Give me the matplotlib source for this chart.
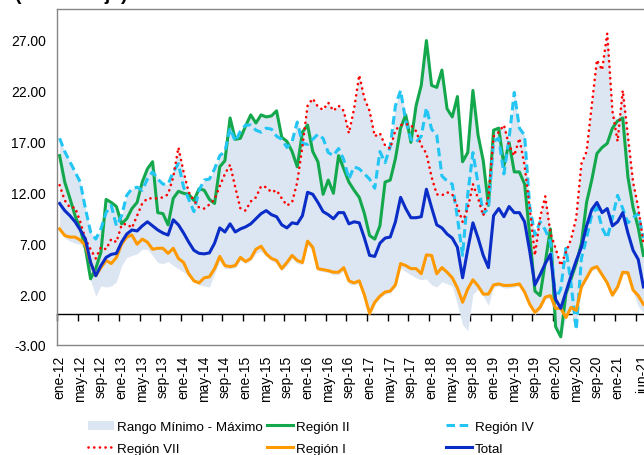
import matplotlib
matplotlib.use('Agg')
import matplotlib.pyplot as plt
import numpy as np
from matplotlib.ticker import FormatStrFormatter

plt.rcParams['font.family'] = ['Liberation Sans', 'DejaVu Sans']

# categorias: meses ene-12 .. jun-21
meses_abr = ['ene', 'feb', 'mar', 'abr', 'may', 'jun', 'jul', 'ago', 'sep', 'oct', 'nov', 'dic']
meses = [f'{m}-{a}' for a in range(12, 22) for m in meses_abr][:114]

etiquetas = ['ene-12', 'may-12', 'sep-12', 'ene-13', 'may-13', 'sep-13', 'ene-14', 'may-14',
             'sep-14', 'ene-15', 'may-15', 'sep-15', 'ene-16', 'may-16', 'sep-16', 'ene-17',
             'may-17', 'sep-17', 'ene-18', 'may-18', 'sep-18', 'ene-19', 'may-19', 'sep-19',
             'ene-20', 'may-20', 'sep-20', 'ene-21', 'jun-21']

total = [10.9, 10.2, 9.7, 9.1, 8.3, 7.4, 5.1, 3.8, 4.8, 5.6,
         5.9, 6.0, 7.1, 7.9, 8.3, 8.2, 8.7, 9.1, 8.7, 8.3,
         8.0, 7.8, 9.3, 8.8, 8.0, 7.1, 6.3, 6.0, 5.95, 6.05,
         7.0, 8.5, 8.1, 8.9, 8.1, 8.4, 8.6, 8.9, 9.4, 9.9,
         10.2, 9.8, 9.6, 8.8, 8.5, 9.0, 8.9, 9.7, 12.0, 11.8,
         11.0, 10.1, 9.8, 9.4, 10.0, 10.0, 8.9, 9.1, 9.0, 7.5,
         5.8, 5.7, 7.0, 7.5, 7.6, 9.1, 11.5, 10.4, 9.5, 9.5,
         9.6, 12.3, 10.5, 8.8, 8.5, 7.9, 7.5, 6.6, 3.6, 6.4,
         9.0, 7.5, 5.8, 4.6, 9.7, 10.4, 9.6, 10.6, 10.0, 10.0,
         9.1, 6.2, 2.9, 3.9, 5.0, 5.9, 1.5, 0.6, 2.2, 3.8,
         5.3, 6.6, 8.7, 10.3, 11.0, 10.0, 10.4, 8.7, 9.1, 10.0,
         8.0, 6.3, 5.4, 2.7]

region_i = [8.4, 7.75, 7.6, 7.6, 7.3, 6.8, 5.1, 3.8, 4.6, 5.3,
            5.0, 5.6, 6.9, 7.6, 7.8, 6.9, 7.4, 7.1, 6.4, 6.5,
            6.5, 6.0, 6.5, 5.5, 5.1, 4.0, 3.3, 3.1, 3.6, 3.7,
            4.5, 5.7, 4.8, 4.7, 4.8, 5.6, 5.2, 5.5, 6.4, 6.7,
            5.95, 5.5, 5.3, 4.5, 5.1, 5.8, 5.3, 5.1, 7.2, 6.6,
            4.5, 4.4, 4.3, 4.15, 4.15, 4.6, 3.3, 3.1, 3.3, 1.9,
            0.1, 1.2, 1.8, 2.2, 2.3, 2.9, 5.0, 4.8, 4.5, 4.5,
            4.0, 5.85, 5.8, 4.0, 4.6, 4.15, 3.6, 2.6, 1.2, 2.5,
            3.4, 2.8, 2.0, 2.0, 2.9, 3.0, 2.85, 2.85, 2.9, 3.0,
            2.2, 1.0, 0.2, 0.7, 1.7, 1.85, 0.6, 0.6, -0.3, 0.7,
            0.4, 2.7, 3.6, 4.5, 4.7, 3.9, 3.1, 1.9, 2.7, 4.15,
            4.1, 2.4, 1.85, 1.0]

region_ii = [15.6, 13.0, 11.4, 9.7, 8.4, 6.5, 3.5, 4.5, 6.1, 11.3,
             11.0, 10.6, 8.9, 9.4, 10.4, 11.0, 13.0, 14.3, 15.0, 10.0,
             9.9, 8.8, 11.4, 12.1, 11.9, 11.8, 11.2, 12.35, 12.2, 11.3,
             10.9, 14.5, 15.1, 19.3, 17.2, 17.3, 18.5, 19.6, 18.8, 19.6,
             19.4, 19.5, 20.0, 17.4, 17.0, 16.0, 14.5, 17.9, 18.6, 16.0,
             15.0, 11.8, 13.2, 11.9, 15.6, 14.3, 13.0, 12.2, 11.5, 9.9,
             7.75, 7.4, 8.7, 13.0, 13.2, 15.3, 18.3, 19.6, 16.9, 20.5,
             22.5, 26.9, 22.5, 22.3, 24.0, 20.2, 19.4, 21.4, 15.0, 15.9,
             22.0, 17.6, 15.1, 10.7, 18.1, 18.3, 14.6, 16.9, 14.0, 14.0,
             12.8, 7.75, 2.3, 1.85, 5.1, 8.4, -1.2, -2.2, 2.0, 3.5,
             5.0, 7.0, 11.0, 13.2, 15.8, 16.4, 16.8, 18.3, 19.0, 19.3,
             13.5, 10.5, 8.5, 5.8]

region_iv = [17.3, 16.0, 15.0, 14.0, 13.0, 10.4, 8.1, 7.4, 8.4, 10.0,
             10.7, 8.7, 9.7, 11.7, 12.35, 12.5, 12.2, 13.3, 14.0, 13.3,
             12.8, 12.8, 14.0, 14.8, 12.5, 11.3, 10.1, 12.2, 13.2, 13.3,
             14.3, 15.6, 16.0, 18.3, 17.0, 18.0, 18.6, 18.6, 18.1, 17.9,
             18.3, 18.2, 17.5, 17.2, 16.4, 17.0, 18.9, 16.8, 16.7, 17.2,
             17.7, 17.3, 15.9, 15.6, 16.3, 15.2, 13.3, 14.5, 14.3, 13.8,
             13.3, 12.4, 16.0, 14.9, 16.5, 20.5, 22.0, 19.0, 17.2, 16.9,
             17.5, 20.3, 18.2, 17.6, 13.6, 13.1, 12.8, 9.5, 5.8, 11.8,
             15.9, 12.8, 9.9, 10.4, 17.0, 17.3, 13.8, 17.3, 21.8, 18.3,
             17.6, 10.6, 7.8, 9.1, 8.3, 7.1, 1.5, 2.5, 6.5, 3.0,
             -1.5, 5.5, 7.5, 9.8, 10.5, 8.5, 7.5, 9.5, 11.7, 10.4,
             9.0, 9.5, 9.9, 7.5]

region_vii = [12.7, 11.2, 10.5, 10.5, 9.1, 7.4, 6.4, 5.5, 6.6, 6.4,
              7.4, 7.1, 8.8, 8.9, 8.5, 9.7, 10.9, 11.4, 11.4, 11.4,
              11.5, 11.8, 13.5, 16.4, 14.0, 12.0, 11.2, 10.5, 10.4, 10.8,
              11.3, 12.6, 13.8, 14.7, 12.5, 10.4, 10.2, 11.1, 11.5, 12.6,
              12.5, 12.0, 12.2, 11.4, 10.7, 11.0, 13.0, 16.5, 20.5, 21.2,
              20.4, 20.1, 20.8, 20.0, 20.5, 20.0, 17.8, 20.2, 23.5, 21.2,
              20.0, 17.5, 17.8, 16.6, 16.3, 18.1, 18.6, 18.7, 18.6, 18.0,
              16.6, 15.8, 13.5, 11.8, 11.7, 12.0, 11.8, 10.6, 9.1, 10.4,
              12.8, 11.4, 9.7, 11.5, 17.5, 17.9, 18.6, 16.6, 15.6, 17.3,
              14.6, 10.4, 5.8, 9.5, 11.6, 8.0, 6.5, 4.8, 6.1, 7.4,
              9.5, 14.8, 16.0, 20.5, 25.0, 24.0, 27.6, 20.0, 17.0, 22.0,
              17.5, 13.0, 10.5, 7.0]

rango_max = [17.3, 16.0, 15.0, 14.0, 13.0, 10.4, 8.1, 7.4, 8.4, 11.3,
             11.0, 10.6, 9.7, 11.7, 12.35, 12.5, 13.0, 14.3, 15.0, 13.3,
             12.8, 12.8, 14.0, 16.4, 14.0, 12.0, 11.2, 12.35, 13.2, 13.3,
             14.3, 15.6, 16.0, 19.3, 17.2, 18.0, 18.6, 19.6, 18.8, 19.6,
             19.4, 19.5, 20.0, 17.4, 17.0, 17.0, 18.9, 17.9, 20.5, 21.2,
             20.4, 20.1, 20.8, 20.0, 20.5, 20.0, 17.8, 20.2, 23.5, 21.2,
             20.0, 17.5, 17.8, 16.6, 16.5, 20.5, 22.0, 19.6, 18.6, 20.5,
             22.5, 26.9, 22.5, 22.3, 24.0, 20.2, 19.4, 21.4, 15.0, 15.9,
             22.0, 17.6, 15.1, 11.5, 18.1, 18.3, 18.6, 17.3, 21.8, 18.3,
             17.6, 10.6, 7.8, 9.5, 11.6, 8.4, 6.5, 4.8, 6.5, 7.4,
             9.5, 14.8, 16.0, 20.5, 25.0, 24.0, 27.6, 20.0, 19.0, 22.0,
             17.5, 13.0, 10.5, 7.5]

rango_min = [8.4, 7.5, 7.2, 7.0, 6.9, 6.3, 3.3, 1.8, 2.8, 2.7,
             2.8, 3.2, 4.8, 5.6, 5.8, 5.95, 6.4, 6.4, 5.8, 5.1,
             5.0, 5.2, 4.8, 4.5, 4.15, 3.7, 3.17, 2.9, 2.8, 2.7,
             4.0, 5.2, 4.5, 4.5, 4.6, 5.3, 5.0, 5.3, 6.0, 6.2,
             5.7, 5.3, 5.0, 4.3, 4.8, 5.5, 5.0, 4.9, 6.8, 6.2,
             4.3, 4.2, 4.1, 3.9, 3.9, 4.3, 3.0, 2.9, 3.1, 1.7,
             0.0, 1.0, 1.6, 2.0, 2.1, 2.7, 4.6, 4.2, 3.9, 3.6,
             3.4, 3.5, 2.9, 2.7, 3.2, 3.0, 2.8, 1.0, -1.0, -1.6,
             2.0, 2.5, 1.8, 0.9, 2.7, 2.8, 2.6, 2.6, 2.7, 2.8,
             2.0, 0.8, 0.0, 0.5, 1.5, 1.6, -1.2, -2.2, -0.3, 0.5,
             -1.5, 2.5, 3.4, 4.3, 4.5, 3.7, 2.9, 1.7, 2.5, 3.9,
             3.9, 2.2, 0.8, 0.2]


def main():
    x = np.arange(len(meses))

    fig = plt.figure(figsize=(6.44, 4.56), dpi=100)
    ax = fig.add_axes([57 / 644, 110 / 456, 589 / 644, 336 / 456])

    h_rango = ax.fill_between(x, rango_min, rango_max, color='#DCE6F2', lw=0)
    kw = dict(solid_joinstyle='round', dash_joinstyle='round')
    h2, = ax.plot(x, region_ii, color='#14A84C', lw=2.2, **kw)
    h4, = ax.plot(x, region_iv, color='#22C5F3', lw=2.2, ls=(0, (2.8, 1.5)), **kw)
    h7, = ax.plot(x, region_vii, color='#FF0000', lw=1.9, ls=(0, (0.05, 2.1)),
                  dash_capstyle='round', **kw)
    h1, = ax.plot(x, region_i, color='#FF9900', lw=2.2, **kw)
    ht, = ax.plot(x, total, color='#0A2DC8', lw=2.2, **kw)

    ax.set_xlim(-0.5, 113.5)
    ax.set_ylim(-3, 30)

    ax.set_yticks(np.arange(-3, 28, 5))
    ax.yaxis.set_major_formatter(FormatStrFormatter('%.2f'))
    ax.tick_params(axis='y', length=0, pad=8, labelsize=10)

    ax.set_xticks([meses.index(e) for e in etiquetas])
    ax.set_xticklabels(etiquetas, rotation=90)
    ax.tick_params(axis='x', length=0, pad=7, labelsize=10)

    for s in ['left', 'top', 'bottom']:
        ax.spines[s].set_color('#868686')
        ax.spines[s].set_linewidth(1.0)
    ax.spines['right'].set_visible(False)

    # eje de categorias cruzando en cero
    eje0 = ax.secondary_xaxis(3 / 33)
    eje0.set_xticks(np.arange(-0.5, 114, 4))
    eje0.tick_params(axis='x', length=5, width=1, color='black', labelbottom=False,
                     direction='out')
    eje0.spines['bottom'].set_color('black')
    eje0.spines['bottom'].set_linewidth(1.0)

    fig.text(15 / 644, 1.0, '(Porcentaje)', fontsize=14, fontweight='bold',
             ha='left', va='baseline')

    leg_kw = dict(loc='upper left', frameon=False, borderpad=0, borderaxespad=0,
                  handlelength=1.95, handletextpad=0.22, labelspacing=0.7, fontsize=9.6)
    fig.legend([h_rango, h7], ['Rango Mínimo - Máximo', 'Región VII'],
               bbox_to_anchor=(88 / 644, 0.075), **leg_kw)
    fig.legend([h2, h1], ['Región II', 'Región I'],
               bbox_to_anchor=(267 / 644, 0.075), **leg_kw)
    fig.legend([h4, ht], ['Región IV', 'Total'],
               bbox_to_anchor=(446 / 644, 0.075), **leg_kw)

    fig.savefig('out.png', dpi=100)


if __name__ == '__main__':
    main()
